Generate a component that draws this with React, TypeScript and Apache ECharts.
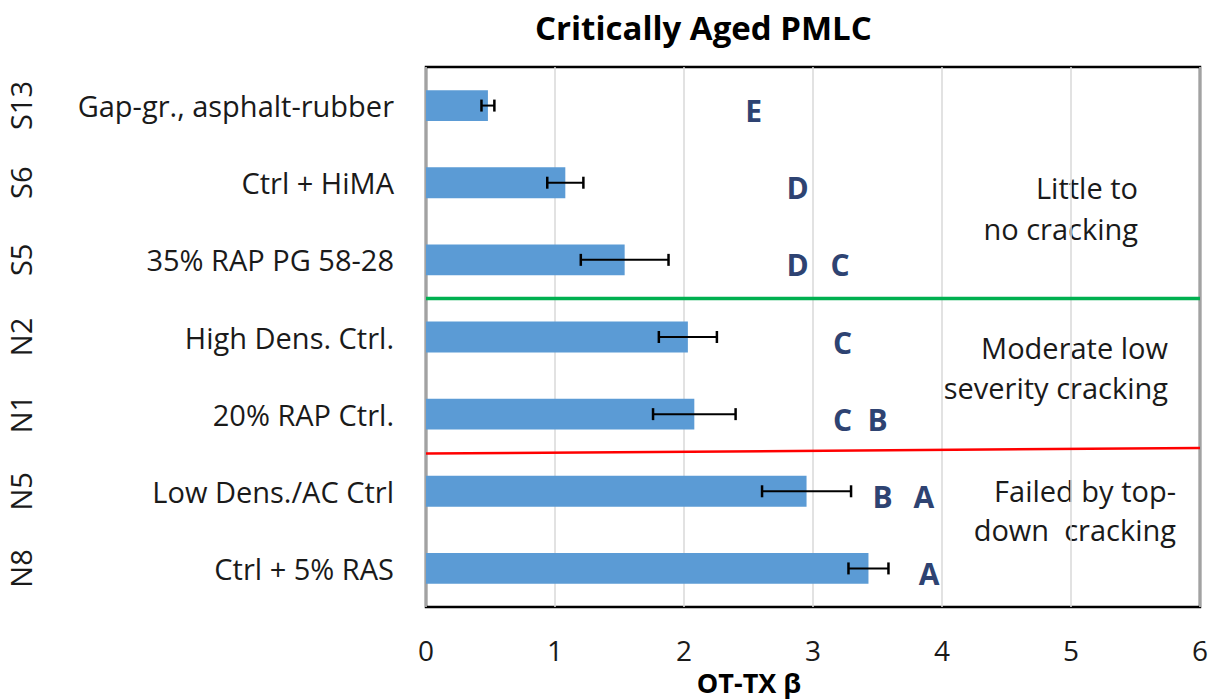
import React, { useEffect, useRef } from "react";
import * as echarts from "echarts";

const codes = ["S13", "S6", "S5", "N2", "N1", "N5", "N8"];
const names = [
  "Gap-gr., asphalt-rubber",
  "Ctrl + HiMA",
  "35% RAP PG 58-28",
  "High Dens. Ctrl.",
  "20% RAP Ctrl.",
  "Low Dens./AC Ctrl",
  "Ctrl + 5% RAS",
];
const betaValues = [0.48, 1.08, 1.54, 2.03, 2.08, 2.95, 3.43];
const betaErrors = [0.05, 0.14, 0.34, 0.225, 0.32, 0.345, 0.155];
// [x position, row index, group letter]
const groupLetters: [number, number, string][] = [
  [2.54, 0, "E"],
  [2.88, 1, "D"],
  [2.88, 2, "D"],
  [3.21, 2, "C"],
  [3.23, 3, "C"],
  [3.23, 4, "C"],
  [3.5, 4, "B"],
  [3.54, 5, "B"],
  [3.86, 5, "A"],
  [3.9, 6, "A"],
];
// threshold lines: [x, row position]
const greenLine = [
  [0, 2.5],
  [6, 2.5],
];
const redLine = [
  [0, 4.51],
  [6, 4.44],
];
const xTicks = [0, 1, 2, 3, 4, 5, 6];
// zone notes: [line text, right edge px, line centre px]
const zoneNotes: [string, number, number][] = [
  ["Little to", 1138, 187],
  ["no cracking", 1138, 228],
  ["Moderate low", 1168, 347],
  ["severity cracking", 1168, 387],
  ["Failed by top-", 1176, 490],
  ["down  cracking", 1176, 529],
];

const FONT = "Open Sans";
const TEXT = "#1a1a1a";
const LETTER = "#2E4372";

export default function App() {
  const ref = useRef<HTMLDivElement>(null);
  useEffect(() => {
    if (!ref.current) return;
    const chart = echarts.init(ref.current, undefined, { renderer: "svg" });
    const errData = betaValues.map((v, i) => [v - betaErrors[i], v + betaErrors[i], i]);
    chart.setOption({
      animation: false,
      backgroundColor: "#fff",
      textStyle: { fontFamily: FONT },
      title: {
        text: "Critically Aged PMLC",
        left: 530,
        top: 6,
        textStyle: { fontFamily: FONT, fontWeight: "bold", fontSize: 33, color: "#000" },
      },
      grid: {
        left: 426,
        right: 15,
        top: 67,
        bottom: 93,
        show: true,
        borderColor: "#000",
        borderWidth: 2.5,
        backgroundColor: "transparent",
        outerBoundsMode: "none",
        containLabel: false,
      },
      xAxis: {
        type: "value",
        min: xTicks[0],
        max: xTicks[xTicks.length - 1],
        interval: 1,
        name: "OT-TX β",
        nameLocation: "middle",
        nameGap: 64,
        nameTextStyle: {
          fontFamily: FONT,
          fontWeight: "bold",
          fontSize: 27,
          lineHeight: 22,
          color: "#000",
          padding: [0, 128, 0, 0],
        },
        axisLine: { show: false },
        axisTick: { show: false },
        axisLabel: { fontFamily: FONT, fontSize: 28, color: TEXT, margin: 29 },
        splitLine: { show: true, lineStyle: { color: "#d9d9d9", width: 1.5 } },
      },
      yAxis: [
        {
          type: "category",
          data: names,
          inverse: true,
          axisLine: { show: false },
          axisTick: { show: false },
          axisLabel: { fontFamily: FONT, fontSize: 29, color: TEXT, margin: 32 },
          splitLine: { show: false },
        },
        {
          type: "category",
          data: codes,
          inverse: true,
          position: "left",
          axisLine: { show: false },
          axisTick: { show: false },
          axisLabel: {
            fontFamily: FONT,
            fontSize: 29,
            lineHeight: 30,
            color: TEXT,
            margin: 391,
            rotate: 90,
          },
          splitLine: { show: false },
        },
        {
          type: "value",
          min: -0.5,
          max: 6.5,
          inverse: true,
          show: false,
        },
      ],
      series: [
        {
          type: "bar",
          yAxisIndex: 0,
          data: betaValues,
          barWidth: "40%",
          itemStyle: { color: "#5B9BD5" },
          z: 2,
        },
        {
          type: "custom",
          yAxisIndex: 0,
          data: errData,
          encode: { x: [0, 1], y: 2 },
          z: 4,
          renderItem: (params: any, api: any) => {
            const row = api.value(2);
            const p1 = api.coord([api.value(0), row]);
            const p2 = api.coord([api.value(1), row]);
            const h = 6;
            const style = { stroke: "#000", lineWidth: 2 };
            return {
              type: "group",
              children: [
                { type: "line", shape: { x1: p1[0], y1: p1[1], x2: p2[0], y2: p2[1] }, style },
                { type: "line", shape: { x1: p1[0], y1: p1[1] - h, x2: p1[0], y2: p1[1] + h }, style: { stroke: "#000", lineWidth: 2.5 } },
                { type: "line", shape: { x1: p2[0], y1: p2[1] - h, x2: p2[0], y2: p2[1] + h }, style: { stroke: "#000", lineWidth: 2.5 } },
              ],
            };
          },
        },
        {
          type: "scatter",
          yAxisIndex: 0,
          symbolSize: 1,
          itemStyle: { color: "rgba(0,0,0,0)", opacity: 1 },
          data: groupLetters.map((g) => ({ value: [g[0], g[1]], name: g[2] })),
          label: {
            show: true,
            position: "inside",
            offset: [0, 5],
            formatter: (p: any) => p.name,
            fontFamily: FONT,
            fontWeight: "bold",
            fontSize: 30,
            color: LETTER,
            opacity: 1,
          },
          emphasis: { disabled: true },
          z: 5,
        },
        {
          type: "line",
          yAxisIndex: 2,
          data: greenLine,
          symbol: "none",
          lineStyle: { color: "#00B050", width: 3.5 },
          z: 3,
        },
        {
          type: "line",
          yAxisIndex: 2,
          data: redLine,
          symbol: "none",
          lineStyle: { color: "#FF0000", width: 2.5 },
          z: 3,
        },
      ],
      graphic: zoneNotes.map((n) => ({
        type: "text",
        x: n[1],
        y: n[2],
        style: {
          text: n[0],
          align: "right",
          verticalAlign: "middle",
          fontFamily: FONT,
          fontSize: 29,
          fill: TEXT,
        },
      })),
    });
    return () => chart.dispose();
  }, []);
  return (
    <div
      ref={ref}
      style={{ position: "fixed", left: 0, top: 0, width: 1215, height: 700 }}
    />
  );
}
